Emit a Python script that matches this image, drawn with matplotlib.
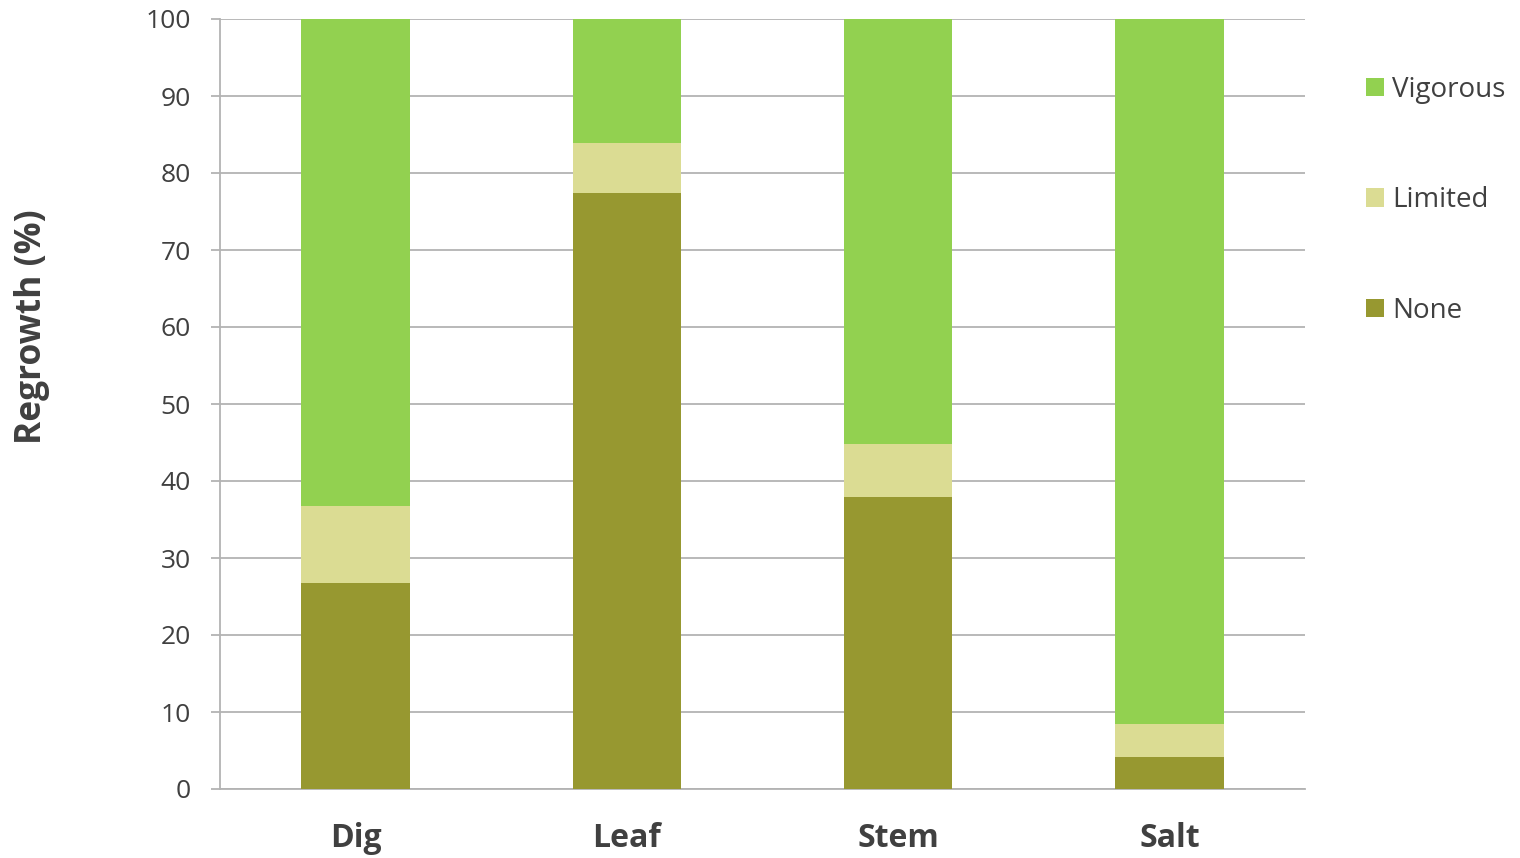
import numpy as np
import matplotlib.pyplot as plt

plt.rcParams['font.family'] = ['Open Sans', 'DejaVu Sans']

# Regrowth outcome per treatment (percent of plants)
treatments = ['Dig', 'Leaf', 'Stem', 'Salt']
none_pct = [26.7, 77.4, 37.9, 4.2]
limited_pct = [10.0, 6.5, 6.9, 4.2]
vigorous_pct = [63.3, 16.1, 55.2, 91.6]

c_none = '#979830'
c_limited = '#DBDC93'
c_vigorous = '#92D150'
text_col = '#404040'
grid_col = '#B3B3B3'

fig = plt.figure(figsize=(15.2, 8.58), dpi=100)
ax = fig.add_axes([220 / 1520, 1 - 789 / 858, 1085 / 1520, 770 / 858])

x = np.arange(len(treatments))
w = 0.4
none_arr = np.array(none_pct)
lim_arr = np.array(limited_pct)
vig_arr = np.array(vigorous_pct)

b1 = ax.bar(x, none_arr, w, color=c_none, label='None', zorder=3)
b2 = ax.bar(x, lim_arr, w, bottom=none_arr, color=c_limited, label='Limited', zorder=3)
b3 = ax.bar(x, vig_arr, w, bottom=none_arr + lim_arr, color=c_vigorous, label='Vigorous', zorder=3)

ax.set_xlim(-0.5, len(treatments) - 0.5)
ax.set_ylim(0, 100)
ax.set_yticks(np.arange(0, 101, 10))
ax.yaxis.grid(True, color=grid_col, linewidth=1.3, zorder=0)
ax.set_axisbelow(True)

for side in ['top', 'right']:
    ax.spines[side].set_visible(False)
for side in ['left', 'bottom']:
    ax.spines[side].set_color(grid_col)
    ax.spines[side].set_linewidth(1.3)

ax.tick_params(axis='y', length=6.5, width=1.3, color=grid_col, labelsize=19,
               labelcolor=text_col, pad=14.5)
ax.tick_params(axis='x', length=0, labelsize=23, labelcolor=text_col, pad=24)
ax.set_xticks(x)
ax.set_xticklabels(treatments, fontweight='bold')

# y label sits above the axis centre
fig.text(32 / 1520, 1 - 327 / 858, 'Regrowth (%)', rotation=90, fontsize=25.5,
         fontweight='bold', color=text_col, ha='center', va='center')

leg = ax.legend(handles=[b3, b2, b1], labels=['Vigorous', 'Limited', 'None'],
                loc='upper left', bbox_to_anchor=(1.033, 0.959), frameon=False,
                fontsize=20, labelcolor=text_col, handlelength=0.65, handleheight=0.65,
                handletextpad=0.3, labelspacing=2.97)

fig.savefig('out.png', dpi=100)
